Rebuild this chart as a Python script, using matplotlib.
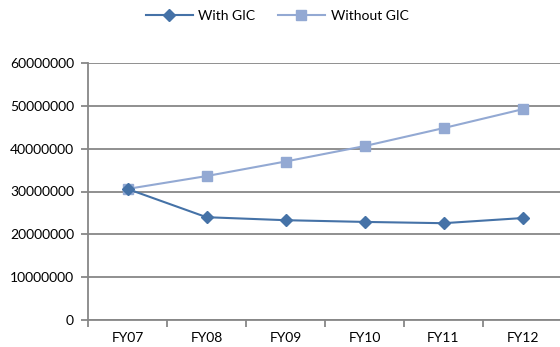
import matplotlib
matplotlib.use("Agg")
import matplotlib.pyplot as plt

years = ["FY07", "FY08", "FY09", "FY10", "FY11", "FY12"]
with_gic = [30600000, 24000000, 23300000, 22900000, 22600000, 23800000]
without_gic = [30600000, 33600000, 37000000, 40600000, 44800000, 49200000]
y_ticks = [0, 10000000, 20000000, 30000000, 40000000, 50000000, 60000000]

plt.rcParams["font.family"] = ["Lato", "DejaVu Sans"]

W, H = 560, 347
fig = plt.figure(figsize=(W / 100, H / 100), dpi=100)
ax = fig.add_axes([88 / W, 27 / H, 474 / W, 257 / H])

grid_c = "#878787"
x = list(range(len(years)))
ax.plot(x, with_gic, color="#4572A7", lw=1.5, marker="D", ms=6,
        label="With GIC", zorder=4)
ax.plot(x, without_gic, color="#93A9D3", lw=1.5, marker="s", ms=6.5,
        label="Without GIC", zorder=3)

ax.set_xlim(-0.5, 5.5)
ax.set_ylim(0, 60000000)
ax.set_yticks(y_ticks)
ax.set_yticklabels([str(v) for v in y_ticks])
ax.yaxis.grid(True, color=grid_c, lw=1.3)
ax.set_axisbelow(True)

ax.set_xticks(x)
ax.set_xticklabels(years)
ax.set_xticks([i - 0.5 for i in range(len(years) + 1)], minor=True)
ax.tick_params(axis="x", which="major", length=0, pad=9, labelsize=10)
ax.tick_params(axis="x", which="minor", length=5, color=grid_c, width=1.3)
ax.tick_params(axis="y", length=5, color=grid_c, width=1.3, pad=5, labelsize=10)

for s in ("top", "right"):
    ax.spines[s].set_visible(False)
for s in ("left", "bottom"):
    ax.spines[s].set_color(grid_c)
    ax.spines[s].set_linewidth(1.3)

fig.legend(loc="center", bbox_to_anchor=(277 / W, 1 - 16 / H), ncol=2,
           frameon=False, fontsize=10, handlelength=3.4, columnspacing=1.6,
           handletextpad=0.4)

fig.savefig("out.png", dpi=100)
